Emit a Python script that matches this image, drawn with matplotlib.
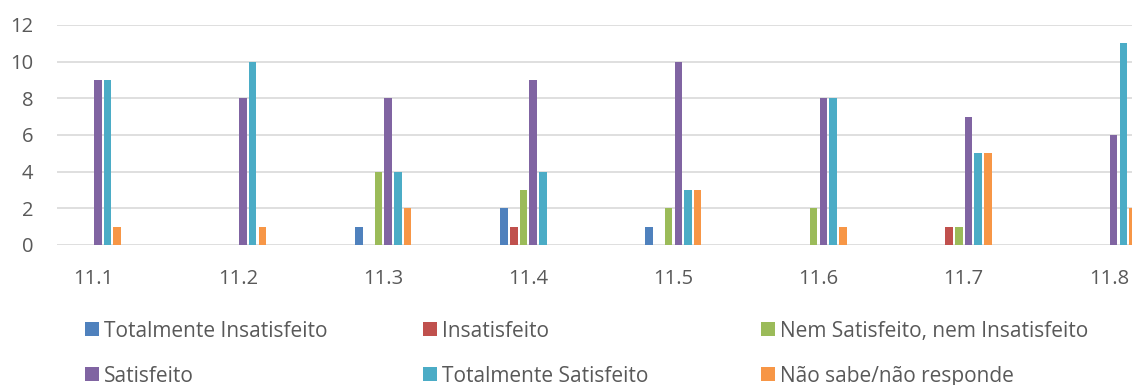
import matplotlib
matplotlib.use("Agg")
import matplotlib.pyplot as plt
from matplotlib.patches import Rectangle
import numpy as np

categories = ["11.1", "11.2", "11.3", "11.4", "11.5", "11.6", "11.7", "11.8"]
series_names = [
    "Totalmente Insatisfeito",
    "Insatisfeito",
    "Nem Satisfeito, nem Insatisfeito",
    "Satisfeito",
    "Totalmente Satisfeito",
    "Não sabe/não responde",
]
totalmente_insatisfeito = [0, 0, 1, 2, 1, 0, 0, 0]
insatisfeito = [0, 0, 0, 1, 0, 0, 1, 0]
nem_satisfeito = [0, 0, 4, 3, 2, 2, 1, 0]
satisfeito = [9, 8, 8, 9, 10, 8, 7, 6]
totalmente_satisfeito = [9, 10, 4, 4, 3, 8, 5, 11]
nao_sabe = [1, 1, 2, 0, 3, 1, 5, 2]
series_values = [totalmente_insatisfeito, insatisfeito, nem_satisfeito,
                 satisfeito, totalmente_satisfeito, nao_sabe]
colors = ["#4F81BD", "#C0504D", "#9BBB59", "#8064A2", "#4BACC6", "#F79646"]
y_ticks = [0, 2, 4, 6, 8, 10, 12]

plt.rcParams["font.family"] = ["Open Sans", "DejaVu Sans"]
text_color = "#595959"
grid_color = "#D9D9D9"

W, H = 1132, 385
fig = plt.figure(figsize=(W / 100, H / 100), dpi=100)
ax = fig.add_axes([57 / W, 140 / H, 1 - 57 / W, 220 / H])

x = np.arange(len(categories))
pitch = 0.0668
bar_w = 0.052
for j, (vals, c) in enumerate(zip(series_values, colors)):
    ax.bar(x + (j - 2.5) * pitch, vals, width=bar_w, color=c, zorder=3,
           linewidth=0)

ax.set_xlim(-0.248, 7.16)
ax.set_ylim(0, 12)
ax.set_yticks(y_ticks)
ax.set_xticks(x)
ax.set_xticklabels(categories)
ax.yaxis.grid(True, color=grid_color, linewidth=1.2, zorder=0)
ax.set_axisbelow(True)
for s in ax.spines.values():
    s.set_visible(False)
ax.tick_params(axis="both", length=0, labelsize=14.5, colors=text_color)
ax.tick_params(axis="x", pad=17)
ax.tick_params(axis="y", pad=17)

# legend laid out as a 3x2 grid below the plot
col_x = [85, 423, 761]
row_base = [336.7, 381.7]
sq = 14
for k, (name, c) in enumerate(zip(series_names, colors)):
    r, cidx = divmod(k, 3)
    x0 = col_x[cidx]
    yb = row_base[r]
    y_center = yb - 7.5
    fig.patches.append(Rectangle((x0 / W, 1 - (y_center + sq / 2) / H),
                                 sq / W, sq / H, transform=fig.transFigure,
                                 color=c, linewidth=0))
    fig.text((x0 + 19) / W, 1 - yb / H, name, fontsize=15, color=text_color,
             ha="left", va="baseline")

fig.savefig("out.png", dpi=100)
